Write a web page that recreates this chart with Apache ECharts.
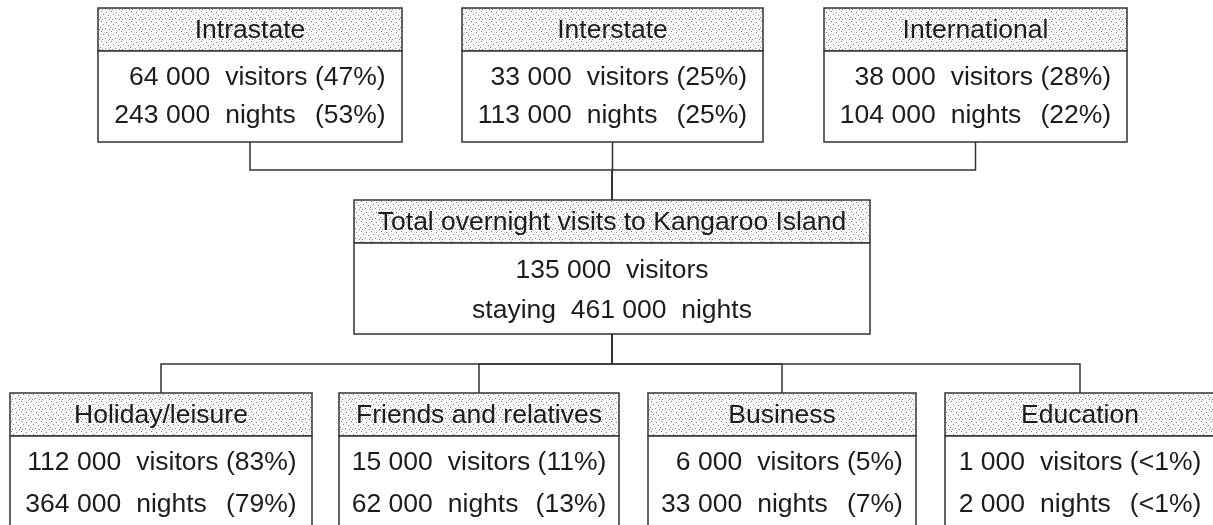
<!DOCTYPE html>
<html>
<head>
<meta charset="utf-8">
<script src="https://cdn.jsdelivr.net/npm/echarts@6/dist/echarts.min.js"></script>
<style>
  html, body { margin: 0; padding: 0; background: #fff; }
  #chart { width: 1213px; height: 525px; }
</style>
</head>
<body>
<div id="chart"></div>
<script>
// where the visitors come from
const sources = ['Intrastate', 'Interstate', 'International']
const sourceVisitors = [64000, 33000, 38000]
const sourceVisitorShare = ['47%', '25%', '28%']
const sourceNights = [243000, 113000, 104000]
const sourceNightShare = ['53%', '25%', '22%']

// total
const totalTitle = 'Total overnight visits to Kangaroo Island'
const totalVisitors = 135000
const totalNights = 461000

// purpose of visit
const purposes = ['Holiday/leisure', 'Friends and relatives', 'Business', 'Education']
const purposeVisitors = [112000, 15000, 6000, 1000]
const purposeVisitorShare = ['83%', '11%', '5%', '<1%']
const purposeNights = [364000, 62000, 33000, 2000]
const purposeNightShare = ['79%', '13%', '7%', '<1%']

const W = 1213
const H = 525
const FONT = '26.5px "Liberation Sans", Arial, Helvetica, sans-serif'
const TEXT_COLOR = '#1c1c1c'
const LINE_COLOR = '#333'

// layout of the three rows of boxes (axis units = pixels)
const levels = {
  top: { top: 8, head: 51, bottom: 142, row1: 77.5, row2: 116, spans: [[98, 402], [462, 763], [824, 1127]] },
  mid: { top: 200, head: 243, bottom: 334, row1: 271, row2: 311, spans: [[354, 870]] },
  bottom: { top: 393, head: 436, bottom: 560, row1: 463, row2: 505, spans: [[10, 312], [339, 619], [648, 916], [945, 1215]] },
}
const upperBusY = 170
const lowerBusY = 364

function fmt(n) {
  return String(n).replace(/\B(?=(\d{3})+(?!\d))/g, ' ')
}

const measureCtx = document.createElement('canvas').getContext('2d')
measureCtx.font = FONT
function measure(t) {
  return measureCtx.measureText(t).width
}

// stippled header fill
function makeStipple() {
  const c = document.createElement('canvas')
  c.width = 10
  c.height = 10
  const ctx = c.getContext('2d')
  ctx.fillStyle = '#f8f8f8'
  ctx.fillRect(0, 0, 10, 10)
  ctx.fillStyle = '#888'
  const dots = [[1, 1], [6, 2], [3, 4], [8, 5], [0, 7], [5, 8], [9, 9], [2, 9]]
  dots.forEach(([x, y]) => ctx.fillRect(x, y, 1, 1))
  return c
}
const stipple = makeStipple()

// boxes
const boxes = []
sources.forEach((name, i) => {
  boxes.push({
    level: 'top', idx: i, title: name, type: 'table',
    rows: [[sourceVisitors[i], 'visitors', sourceVisitorShare[i]], [sourceNights[i], 'nights', sourceNightShare[i]]],
  })
})
boxes.push({
  level: 'mid', idx: 0, title: totalTitle, type: 'lines',
  rows: [fmt(totalVisitors) + '  visitors', 'staying  ' + fmt(totalNights) + '  nights'],
})
purposes.forEach((name, i) => {
  boxes.push({
    level: 'bottom', idx: i, title: name, type: 'table',
    rows: [[purposeVisitors[i], 'visitors', purposeVisitorShare[i]], [purposeNights[i], 'nights', purposeNightShare[i]]],
  })
})

// connectors
const links = []
sources.forEach((s, i) => links.push({ from: ['top', i], to: ['mid', 0], busY: upperBusY }))
purposes.forEach((p, i) => links.push({ from: ['mid', 0], to: ['bottom', i], busY: lowerBusY }))

function centerX(level, idx) {
  const s = levels[level].spans[idx]
  return (s[0] + s[1]) / 2
}

function textEl(api, x, y, text, align) {
  const p = api.coord([x, y])
  return {
    type: 'text',
    style: { x: p[0], y: p[1], text, fill: TEXT_COLOR, font: FONT, align, verticalAlign: 'middle' },
  }
}

function renderBox(params, api) {
  const b = boxes[params.dataIndex]
  const lv = levels[b.level]
  const span = lv.spans[b.idx]
  const cx = (span[0] + span[1]) / 2
  const tl = api.coord([span[0], lv.top])
  const hd = api.coord([span[1], lv.head])
  const br = api.coord([span[1], lv.bottom])
  const children = [
    {
      type: 'rect',
      shape: { x: tl[0], y: tl[1], width: hd[0] - tl[0], height: hd[1] - tl[1] },
      style: { fill: { image: stipple, repeat: 'repeat' }, stroke: LINE_COLOR, lineWidth: 1.5 },
    },
    {
      type: 'rect',
      shape: { x: tl[0], y: hd[1], width: br[0] - tl[0], height: br[1] - hd[1] },
      style: { fill: '#fff', stroke: LINE_COLOR, lineWidth: 1.5 },
    },
    textEl(api, cx, (lv.top + lv.head) / 2 + 1, b.title, 'center'),
  ]
  const rowY = [lv.row1, lv.row2]
  if (b.type === 'table') {
    const gap = 15
    const numW = Math.max(...b.rows.map((r) => measure(fmt(r[0]))))
    const restW = measure(b.rows[0][1] + ' (' + b.rows[0][2] + ')')
    const blockW = numW + gap + restW
    const left = cx - blockW / 2
    b.rows.forEach((r, k) => {
      children.push(textEl(api, left + numW, rowY[k], fmt(r[0]), 'right'))
      children.push(textEl(api, left + numW + gap, rowY[k], r[1], 'left'))
      children.push(textEl(api, left + blockW, rowY[k], '(' + r[2] + ')', 'right'))
    })
  } else {
    b.rows.forEach((t, k) => children.push(textEl(api, cx, rowY[k], t, 'center')))
  }
  return { type: 'group', children }
}

function renderLink(params, api) {
  const l = links[params.dataIndex]
  const x1 = centerX(l.from[0], l.from[1])
  const y1 = levels[l.from[0]].bottom
  const x2 = centerX(l.to[0], l.to[1])
  const y2 = levels[l.to[0]].top
  const pts = [[x1, y1], [x1, l.busY], [x2, l.busY], [x2, y2]].map((p) => api.coord(p))
  return {
    type: 'polyline',
    shape: { points: pts },
    style: { fill: 'none', stroke: LINE_COLOR, lineWidth: 1.5 },
  }
}

const chart = echarts.init(document.getElementById('chart'))
chart.setOption({
  animation: false,
  backgroundColor: '#fff',
  grid: { left: 0, right: 0, top: 0, bottom: 0 },
  xAxis: { type: 'value', min: 0, max: W, show: false },
  yAxis: { type: 'value', min: 0, max: H, inverse: true, show: false },
  series: [
    {
      type: 'custom',
      name: 'links',
      clip: false,
      silent: true,
      renderItem: renderLink,
      data: links.map((l, i) => [i, 0]),
      z: 1,
    },
    {
      type: 'custom',
      name: 'boxes',
      clip: false,
      silent: true,
      renderItem: renderBox,
      data: boxes.map((b, i) => [i, 0]),
      z: 2,
    },
  ],
})
</script>
</body>
</html>
